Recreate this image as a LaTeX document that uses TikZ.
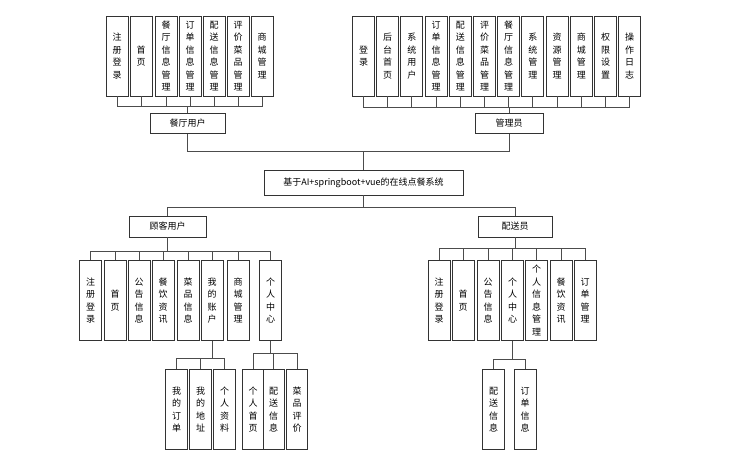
\documentclass[tikz,border=0pt]{standalone}
\usepackage{fontspec}
\setmainfont{Noto Sans CJK SC}

\begin{document}
\begin{tikzpicture}[
  x=1pt, y=-1pt,
  font=\fontsize{9}{12.5}\selectfont,
  vbox/.style={draw=black!80, line width=0.9pt, align=center, inner sep=0pt, minimum width=22pt, minimum height=80pt},
  hbox/.style={draw=black!80, line width=0.9pt, align=center, inner sep=0pt, minimum height=20pt},
  link/.style={draw=black!70, line width=0.9pt}
]
\useasboundingbox (0,0) rectangle (738,463);

% restaurant user modules
\node[vbox] (rreg) at (117,56) {注\\册\\登\\录};
\node[vbox] (rhome) at (141,56) {首\\页};
\node[vbox] (rrest) at (166,56) {餐\\厅\\信\\息\\管\\理};
\node[vbox] (rorder) at (190,56) {订\\单\\信\\息\\管\\理};
\node[vbox] (rdeliv) at (214,56) {配\\送\\信\\息\\管\\理};
\node[vbox] (rreview) at (238,56) {评\\价\\菜\\品\\管\\理};
\node[vbox] (rmall) at (262,56) {商\\城\\管\\理};

% admin modules
\node[vbox] (alogin) at (363.5,56) {登\\录};
\node[vbox] (ahome) at (387.7,56) {后\\台\\首\\页};
\node[vbox] (auser) at (411.9,56) {系\\统\\用\\户};
\node[vbox] (aorder) at (436.1,56) {订\\单\\信\\息\\管\\理};
\node[vbox] (adeliv) at (460.3,56) {配\\送\\信\\息\\管\\理};
\node[vbox] (areview) at (484.5,56) {评\\价\\菜\\品\\管\\理};
\node[vbox] (arest) at (508.7,56) {餐\\厅\\信\\息\\管\\理};
\node[vbox] (asys) at (532.9,56) {系\\统\\管\\理};
\node[vbox] (ares) at (557.1,56) {资\\源\\管\\理};
\node[vbox] (amall) at (581.3,56) {商\\城\\管\\理};
\node[vbox] (aperm) at (605.5,56) {权\\限\\设\\置};
\node[vbox] (alog) at (629.7,56) {操\\作\\日\\志};

% roles and system
\node[hbox, minimum width=75pt] (rest) at (187.5,123.5) {餐厅用户};
\node[hbox, minimum width=68pt] (admin) at (509,123.5) {管理员};
\node[hbox, minimum width=199pt, minimum height=25pt] (sys) at (363.5,182.5) {基于AI+springboot+vue的在线点餐系统};
\node[hbox, minimum width=77pt, minimum height=21pt] (cust) at (167.5,226.5) {顾客用户};
\node[hbox, minimum width=74pt, minimum height=21pt] (deliv) at (515,226.5) {配送员};

% customer modules
\node[vbox] (creg) at (90.5,300.5) {注\\册\\登\\录};
\node[vbox] (chome) at (115,300.5) {首\\页};
\node[vbox] (cnotice) at (139,300.5) {公\\告\\信\\息};
\node[vbox] (cnews) at (163,300.5) {餐\\饮\\资\\讯};
\node[vbox] (cdish) at (188,300.5) {菜\\品\\信\\息};
\node[vbox] (cacct) at (212,300.5) {我\\的\\账\\户};
\node[vbox] (cmall) at (238,300.5) {商\\城\\管\\理};
\node[vbox] (ccenter) at (270.5,300.5) {个\\人\\中\\心};

\node[vbox] (corder) at (176.5,409.5) {我\\的\\订\\单};
\node[vbox] (caddr) at (200.5,409.5) {我\\的\\地\\址};
\node[vbox] (cinfo) at (224.5,409.5) {个\\人\\资\\料};
\node[vbox, minimum width=21pt] (cpage) at (253,409.5) {个\\人\\首\\页};
\node[vbox, minimum width=21pt] (cdeliv) at (273.5,409.5) {配\\送\\信\\息};
\node[vbox, minimum width=21pt] (creview) at (297,409.5) {菜\\品\\评\\价};

% delivery modules
\node[vbox] (dreg) at (439,300.5) {注\\册\\登\\录};
\node[vbox] (dhome) at (463,300.5) {首\\页};
\node[vbox] (dnotice) at (488,300.5) {公\\告\\信\\息};
\node[vbox] (dcenter) at (512.5,300.5) {个\\人\\中\\心};
\node[vbox] (dinfo) at (536.5,300.5) {个\\人\\信\\息\\管\\理};
\node[vbox] (dnews) at (561,300.5) {餐\\饮\\资\\讯};
\node[vbox] (dorder) at (585,300.5) {订\\单\\管\\理};

\node[vbox] (ddeliv) at (493.5,409.5) {配\\送\\信\\息};
\node[vbox] (dorders) at (525,409.5) {订\\单\\信\\息};

% top links
\draw[link] (rest.north) -- ++(0,-7) -| (rreg.south);
\draw[link] (rest.north) -- ++(0,-7) -| (rhome.south);
\draw[link] (rest.north) -- ++(0,-7) -| (rrest.south);
\draw[link] (rest.north) -- ++(0,-7) -| (rorder.south);
\draw[link] (rest.north) -- ++(0,-7) -| (rdeliv.south);
\draw[link] (rest.north) -- ++(0,-7) -| (rreview.south);
\draw[link] (rest.north) -- ++(0,-7) -| (rmall.south);

\draw[link] (admin.north) -- ++(0,-6) -| (alogin.south);
\draw[link] (admin.north) -- ++(0,-6) -| (ahome.south);
\draw[link] (admin.north) -- ++(0,-6) -| (auser.south);
\draw[link] (admin.north) -- ++(0,-6) -| (aorder.south);
\draw[link] (admin.north) -- ++(0,-6) -| (adeliv.south);
\draw[link] (admin.north) -- ++(0,-6) -| (areview.south);
\draw[link] (admin.north) -- ++(0,-6) -| (arest.south);
\draw[link] (admin.north) -- ++(0,-6) -| (asys.south);
\draw[link] (admin.north) -- ++(0,-6) -| (ares.south);
\draw[link] (admin.north) -- ++(0,-6) -| (amall.south);
\draw[link] (admin.north) -- ++(0,-6) -| (aperm.south);
\draw[link] (admin.north) -- ++(0,-6) -| (alog.south);

\draw[link] (rest.south) -- ++(0,17) -| (sys.north);
\draw[link] (admin.south) -- ++(0,17) -| (sys.north);

% lower links
\draw[link] (sys.south) -- ++(0,12) -| (cust.north);
\draw[link] (sys.south) -- ++(0,12) -| (deliv.north);

\draw[link] (cust.south) -- ++(0,14) -| (creg.north);
\draw[link] (cust.south) -- ++(0,14) -| (chome.north);
\draw[link] (cust.south) -- ++(0,14) -| (cnotice.north);
\draw[link] (cust.south) -- ++(0,14) -| (cnews.north);
\draw[link] (cust.south) -- ++(0,14) -| (cdish.north);
\draw[link] (cust.south) -- ++(0,14) -| (cacct.north);
\draw[link] (cust.south) -- ++(0,14) -| (cmall.north);
\draw[link] (cust.south) -- ++(0,14) -| (ccenter.north);

\draw[link] (cacct.south) -- ++(0,17) -| (corder.north);
\draw[link] (cacct.south) -- ++(0,17) -| (caddr.north);
\draw[link] (cacct.south) -- ++(0,17) -| (cinfo.north);
\draw[link] (ccenter.south) -- ++(0,12) -| (cpage.north);
\draw[link] (ccenter.south) -- ++(0,12) -| (cdeliv.north);
\draw[link] (ccenter.south) -- ++(0,12) -| (creview.north);

\draw[link] (deliv.south) -- ++(0,11) -| (dreg.north);
\draw[link] (deliv.south) -- ++(0,11) -| (dhome.north);
\draw[link] (deliv.south) -- ++(0,11) -| (dnotice.north);
\draw[link] (deliv.south) -- ++(0,11) -| (dcenter.north);
\draw[link] (deliv.south) -- ++(0,11) -| (dinfo.north);
\draw[link] (deliv.south) -- ++(0,11) -| (dnews.north);
\draw[link] (deliv.south) -- ++(0,11) -| (dorder.north);

\draw[link] (dcenter.south) -- ++(0,18) -| (ddeliv.north);
\draw[link] (dcenter.south) -- ++(0,18) -| (dorders.north);
\end{tikzpicture}
\end{document}
